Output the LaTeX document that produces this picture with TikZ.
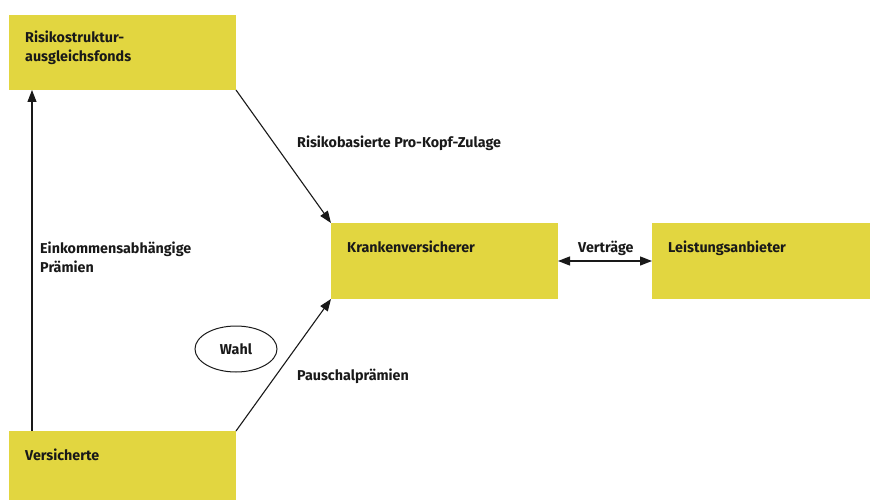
\documentclass[tikz,border=0pt]{standalone}
\usepackage{fontspec}
\setmainfont{Fira Sans}
\usetikzlibrary{arrows.meta,shapes.geometric}
\definecolor{boxyellow}{RGB}{226,214,64}
\begin{document}
\begin{tikzpicture}[x=1pt,y=-1pt,
  box/.style={fill=boxyellow,draw=none},
  lbl/.style={anchor=base west,inner sep=0pt,font=\fontsize{14.3}{19}\selectfont\bfseries,text=black!90},
  conn/.style={line width=1.1pt,draw=black!90,-{Triangle[length=12pt,width=9pt]}},
  biconn/.style={line width=1.3pt,draw=black!90,{Triangle[length=12pt,width=9pt]}-{Triangle[length=12pt,width=9pt]}}]
\useasboundingbox (0,0) rectangle (870,500);
% boxes
\path[box] (9,15) rectangle (236,90);
\coordinate (risBL) at (32,90);
\coordinate (risBR) at (236,90);
\path[box] (331,223) rectangle (558,299);
\coordinate (kraTL) at (331,223);
\coordinate (kraBL) at (331,299);
\coordinate (kraR) at (558,261);
\path[box] (652,223) rectangle (870,299);
\coordinate (leiL) at (652,261);
\path[box] (9,431) rectangle (236,500);
\coordinate (verTL) at (32,431);
\coordinate (verTR) at (236,431);
% texts
\node[lbl] (t1) at (25,43) {Risikostruktur-};
\node[lbl] (t2) at (25,62) {ausgleichsfonds};
\node[lbl] (t3) at (347,252) {Krankenversicherer};
\node[lbl] (t4) at (668,252) {Leistungsanbieter};
\node[lbl] (t5) at (25,460) {Versicherte};
\node[lbl] (l1) at (297,147) {Risikobasierte Pro-Kopf-Zulage};
\node[lbl] (l2) at (578,252) {Verträge};
\node[lbl] (l3) at (40,253) {Einkommensabhängige};
\node[lbl] (l4) at (40,272) {Prämien};
\node[lbl] (l5) at (297,380) {Pauschalprämien};
\node[ellipse,draw=black!90,line width=1pt,minimum width=82pt,minimum height=46pt,inner sep=0pt,font=\fontsize{14.3}{19}\selectfont\bfseries,text=black!90] (wahl) at (236,349) {Wahl};
% connectors
\draw[conn] (verTL) -- (risBL);
\draw[conn] (risBR) -- (kraTL);
\draw[conn] (verTR) -- (kraBL);
\draw[biconn] (kraR) -- (leiL);
\end{tikzpicture}
\end{document}
